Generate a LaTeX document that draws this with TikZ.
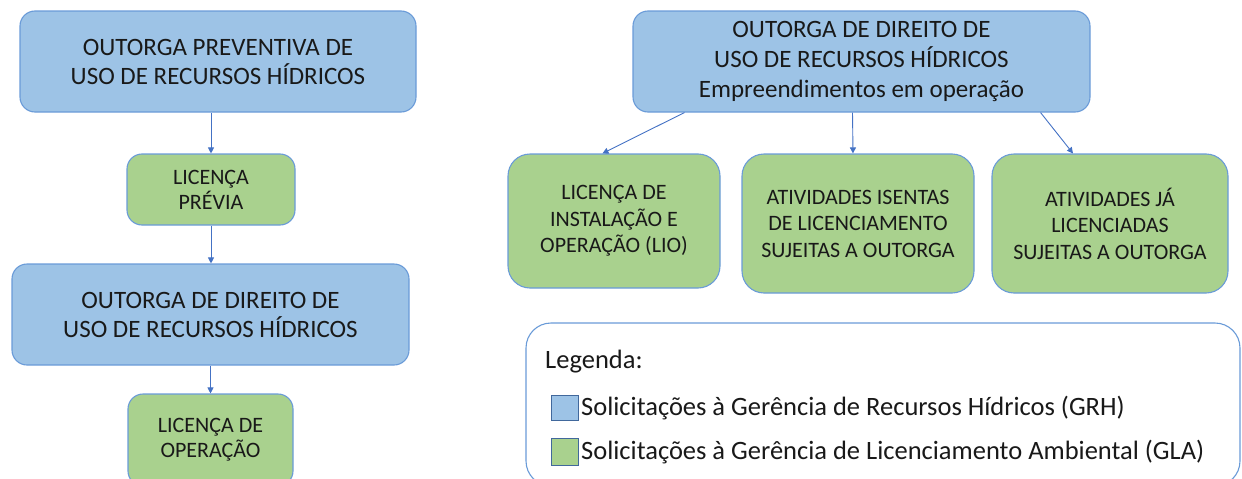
\documentclass[tikz,border=0pt]{standalone}
\usepackage{fontspec}
\setmainfont{Carlito}
\usetikzlibrary{arrows.meta,calc}
\definecolor{bfill}{HTML}{9DC3E6}
\definecolor{gfill}{HTML}{A9D18E}
\definecolor{bline}{HTML}{6A9BD8}
\definecolor{arrc}{HTML}{4472C4}
\definecolor{sqline}{HTML}{41689C}
\tikzset{
  box/.style={rectangle, rounded corners=#1, draw=bline, line width=1.1pt, inner sep=0pt, align=center, text=black!90},
  bluebox/.style={box=15pt, fill=bfill, font=\fontsize{25}{29}\selectfont},
  greensmall/.style={box=15pt, fill=gfill, font=\fontsize{22}{25}\selectfont},
  greenbig/.style={box=22pt, fill=gfill, font=\fontsize{22}{26.5}\selectfont},
  arr/.style={draw=arrc, line width=0.9pt, -{Triangle[width=6pt,length=6pt]}},
  legtxt/.style={anchor=west, inner sep=0pt, font=\fontsize{26.5}{28}\selectfont, text=black!90},
  sq/.style={rectangle, draw=sqline, line width=1pt, minimum width=27pt, minimum height=25pt, inner sep=0pt}
}
\begin{document}
\begin{tikzpicture}[x=1pt,y=-1pt]
\useasboundingbox (0,0) rectangle (1242,479);
\clip (0,0) rectangle (1242,479);
% left column
\node[bluebox, minimum width=396pt, minimum height=101pt] (A) at (218,61.5) {OUTORGA PREVENTIVA DE\\USO DE RECURSOS HÍDRICOS};
\node[greensmall, minimum width=168pt, minimum height=71pt] (B) at (211,189.5) {LICENÇA\\PRÉVIA};
\node[bluebox, minimum width=397pt, minimum height=101pt] (C) at (210.5,314.5) {OUTORGA DE DIREITO DE\\USO DE RECURSOS HÍDRICOS};
\node[greensmall, minimum width=165pt, minimum height=92pt] (D) at (210.5,440) {LICENÇA DE\\OPERAÇÃO};
\draw[arr] (A.south -| B.north) -- (B.north);
\draw[arr] (B.south) -- (C.north -| B.south);
\draw[arr] (C.south) -- (D.north);
% right
\node[bluebox, minimum width=457pt, minimum height=101pt, font=\fontsize{25}{30}\selectfont] (E) at (861.5,61.5) {OUTORGA DE DIREITO DE\\USO DE RECURSOS HÍDRICOS\\Empreendimentos em operação};
\node[greenbig, minimum width=212pt, minimum height=134pt] (F) at (614,221) {LICENÇA DE\\INSTALAÇÃO E\\OPERAÇÃO (LIO)};
\node[greenbig, minimum width=232pt, minimum height=139pt] (G) at (858,223.5) {ATIVIDADES ISENTAS\\DE LICENCIAMENTO\\SUJEITAS A OUTORGA};
\node[greenbig, minimum width=236pt, minimum height=139pt] (H) at (1110,223.5) {ATIVIDADES JÁ\\LICENCIADAS\\SUJEITAS A OUTORGA};
\draw[arr] ([xshift=52pt]E.south west) -- ([xshift=95pt]F.north west);
\draw[arr] ([xshift=-9pt]E.south) -- ([xshift=-5pt]G.north);
\draw[arr] ([xshift=-50pt]E.south east) -- ([xshift=-37pt]H.north);
% legend
\node[rectangle, rounded corners=25pt, draw=bline, line width=1.1pt, fill=white, minimum width=714pt, minimum height=163pt, inner sep=0pt] (L) at (883,404.5) {};
\node[legtxt] (Lt) at (545,362) {Legenda:};
\node[sq, fill=bfill] (S1) at (564.5,407.5) {};
\node[legtxt] (T1) at (581,408) {Solicitações à Gerência de Recursos Hídricos (GRH)};
\node[sq, fill=gfill, minimum height=27pt] (S2) at (564.5,451.5) {};
\node[legtxt] (T2) at (581,452) {Solicitações à Gerência de Licenciamento Ambiental (GLA)};
\end{tikzpicture}
\end{document}
